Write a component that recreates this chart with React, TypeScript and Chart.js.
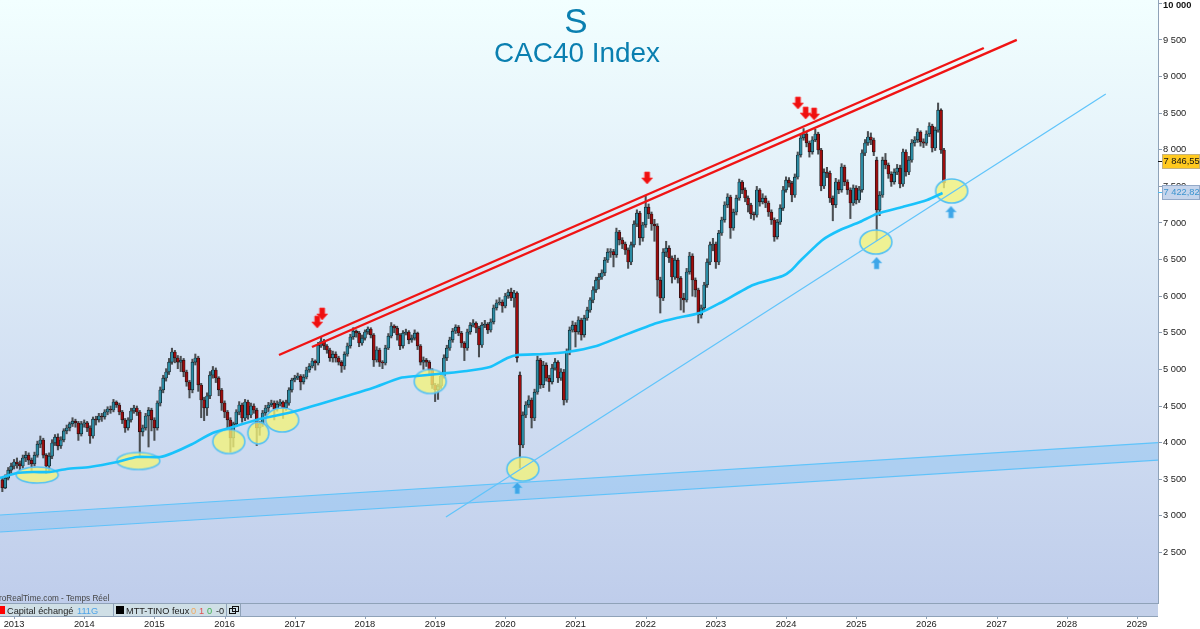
import React from "react";
import { Chart, registerables } from "chart.js";

Chart.register(...registerables);

// half-month candles [open, high, low, close]
const candles2012 = [
  [3490, 3520, 3330, 3380], [3380, 3560, 3370, 3515], [3515, 3660, 3490, 3625], [3625, 3720, 3580, 3680],
];
const candles2013 = [
  [3680, 3770, 3640, 3735], [3735, 3790, 3650, 3710], [3710, 3750, 3630, 3680], [3680, 3830, 3650, 3790],
  [3790, 3880, 3740, 3830], [3830, 3860, 3700, 3760], [3760, 3790, 3620, 3710], [3710, 3870, 3680, 3830],
  [3830, 4020, 3800, 3980], [3980, 4090, 3930, 4036], [4036, 4060, 3790, 3830], [3830, 3850, 3580, 3680],
  [3680, 3860, 3600, 3815], [3815, 4040, 3780, 3995], [3995, 4110, 3960, 4076], [4076, 4120, 3900, 3955],
  [3955, 4080, 3920, 4036], [4036, 4190, 4010, 4160], [4160, 4240, 4120, 4200], [4200, 4280, 4160, 4255],
  [4255, 4340, 4220, 4295], [4295, 4320, 4210, 4268], [4268, 4290, 4030, 4118], [4118, 4290, 4090, 4255],
];
const candles2014 = [
  [4255, 4310, 4210, 4270], [4270, 4290, 4150, 4200], [4200, 4230, 3990, 4090], [4090, 4350, 4060, 4322],
  [4322, 4360, 4240, 4309], [4309, 4400, 4280, 4364], [4364, 4400, 4290, 4350], [4350, 4450, 4320, 4418],
  [4418, 4490, 4380, 4459], [4459, 4500, 4400, 4445], [4445, 4590, 4420, 4555], [4555, 4570, 4480, 4514],
  [4514, 4540, 4380, 4418], [4418, 4440, 4260, 4309], [4309, 4330, 4140, 4200], [4200, 4340, 4170, 4309],
  [4309, 4470, 4280, 4432], [4432, 4510, 4400, 4473], [4473, 4500, 4370, 4418], [4418, 4440, 3800, 4145],
  [4145, 4240, 4090, 4200], [4200, 4400, 4170, 4364], [4364, 4480, 3940, 4445], [4445, 4470, 4160, 4309],
];
const candles2015 = [
  [4309, 4340, 4030, 4200], [4200, 4570, 4170, 4541], [4541, 4760, 4500, 4719], [4719, 4920, 4680, 4882],
  [4882, 5010, 4840, 4965], [4965, 5150, 4930, 5100], [5100, 5290, 5070, 5238], [5238, 5260, 5090, 5156],
  [5156, 5190, 5010, 5100], [5100, 5180, 4970, 5128], [5128, 5150, 4900, 4965], [4965, 4990, 4770, 4828],
  [4828, 4850, 4610, 4719], [4719, 5140, 4680, 5100], [5100, 5210, 5060, 5156], [5156, 5180, 4700, 4787],
  [4787, 4810, 4340, 4582], [4582, 4620, 4300, 4473], [4473, 4680, 4370, 4637], [4637, 4970, 4600, 4923],
  [4923, 5040, 4880, 4992], [4992, 5020, 4820, 4882], [4882, 4900, 4640, 4719], [4719, 4740, 4440, 4541],
];
const candles2016 = [
  [4541, 4570, 4340, 4418], [4418, 4440, 4200, 4309], [4309, 4340, 3870, 4063], [4063, 4280, 3940, 4255],
  [4255, 4450, 4220, 4418], [4418, 4560, 4380, 4514], [4514, 4540, 4280, 4336], [4336, 4590, 4300, 4555],
  [4555, 4580, 4320, 4377], [4377, 4540, 4340, 4500], [4500, 4530, 4400, 4445], [4445, 4470, 3960, 4200],
  [4200, 4290, 4100, 4255], [4255, 4440, 4220, 4405], [4405, 4510, 4370, 4473], [4473, 4550, 4420, 4514],
  [4514, 4580, 4490, 4541], [4541, 4570, 4310, 4459], [4459, 4570, 4430, 4527], [4527, 4590, 4500, 4555],
  [4555, 4570, 4330, 4473], [4473, 4580, 4440, 4541], [4541, 4750, 4510, 4719], [4719, 4880, 4690, 4855],
];
const candles2017 = [
  [4855, 4920, 4830, 4882], [4882, 4950, 4860, 4910], [4910, 4930, 4720, 4828], [4828, 4930, 4800, 4896],
  [4896, 5030, 4870, 4992], [4992, 5080, 4960, 5046], [5046, 5150, 5020, 5115], [5115, 5130, 4990, 5087],
  [5087, 5370, 5060, 5333], [5333, 5450, 5300, 5388], [5388, 5410, 5270, 5320], [5320, 5340, 5220, 5265],
  [5265, 5290, 5110, 5156], [5156, 5250, 5100, 5210], [5210, 5240, 5100, 5156], [5156, 5180, 5060, 5100],
  [5100, 5120, 4960, 5046], [5046, 5240, 5000, 5210], [5210, 5360, 5180, 5320], [5320, 5480, 5290, 5443],
  [5443, 5570, 5410, 5524], [5524, 5540, 5440, 5497], [5497, 5520, 5310, 5360], [5360, 5470, 5330, 5428],
];
const candles2018 = [
  [5428, 5540, 5400, 5511], [5511, 5580, 5480, 5552], [5552, 5570, 5430, 5470], [5470, 5490, 5040, 5128],
  [5128, 5310, 5100, 5265], [5265, 5290, 5040, 5100], [5100, 5120, 5010, 5087], [5087, 5330, 5060, 5292],
  [5292, 5490, 5270, 5456], [5456, 5640, 5430, 5593], [5593, 5610, 5500, 5565], [5565, 5590, 5400, 5470],
  [5470, 5490, 5270, 5320], [5320, 5530, 5290, 5497], [5497, 5550, 5470, 5511], [5511, 5530, 5350, 5402],
  [5402, 5470, 5370, 5428], [5428, 5540, 5400, 5497], [5497, 5510, 5270, 5320], [5320, 5340, 5060, 5100],
  [5100, 5170, 5000, 5128], [5128, 5150, 5040, 5100], [5100, 5120, 4940, 4992], [4992, 5010, 4740, 4787],
];
const candles2019 = [
  [4787, 4810, 4560, 4719], [4719, 4800, 4590, 4773], [4773, 4950, 4740, 4910], [4910, 5200, 4880, 5156],
  [5156, 5330, 5120, 5292], [5292, 5440, 5260, 5402], [5402, 5560, 5370, 5524], [5524, 5610, 5490, 5579],
  [5579, 5600, 5460, 5497], [5497, 5520, 5300, 5360], [5360, 5380, 5120, 5292], [5292, 5550, 5260, 5511],
  [5511, 5640, 5480, 5606], [5606, 5680, 5580, 5634], [5634, 5650, 5500, 5565], [5565, 5590, 5170, 5333],
  [5333, 5640, 5300, 5606], [5606, 5670, 5570, 5620], [5620, 5640, 5490, 5538], [5538, 5690, 5510, 5648],
  [5648, 5880, 5620, 5839], [5839, 5950, 5810, 5907], [5907, 5980, 5880, 5921], [5921, 5950, 5780, 5866],
];
const candles2020 = [
  [5866, 6040, 5840, 6003], [6003, 6090, 5970, 6057], [6057, 6110, 5940, 5975], [5975, 6080, 5850, 6044],
  [6044, 6060, 5100, 5156], [4923, 4965, 3653, 3967], [3967, 4420, 3930, 4377], [4377, 4560, 4340, 4514],
  [4514, 4640, 4480, 4582], [4582, 4610, 4200, 4336], [4336, 4730, 4300, 4691], [4691, 5183, 4660, 5128],
  [5128, 5150, 4740, 4787], [4787, 5110, 4750, 5060], [5060, 5090, 4840, 4882], [4882, 4920, 4700, 4828],
  [4828, 5070, 4800, 5019], [5019, 5150, 4990, 5100], [5100, 5120, 4820, 4882], [4882, 5010, 4850, 4965],
  [4965, 5000, 4514, 4582], [4582, 5280, 4550, 5238], [5238, 5580, 5200, 5538], [5538, 5660, 5510, 5606],
];
const candles2021 = [
  [5606, 5640, 5306, 5511], [5511, 5720, 5480, 5675], [5675, 5700, 5400, 5470], [5470, 5740, 5440, 5702],
  [5702, 5850, 5670, 5811], [5811, 5980, 5780, 5948], [5948, 6130, 5910, 6085], [6085, 6260, 6050, 6221],
  [6221, 6310, 6100, 6262], [6262, 6360, 6230, 6317], [6317, 6530, 6280, 6494], [6494, 6650, 6460, 6603],
  [6603, 6650, 6530, 6610], [6610, 6640, 6400, 6563], [6563, 6930, 6530, 6877], [6877, 6900, 6700, 6768],
  [6768, 6800, 6650, 6713], [6713, 6740, 6570, 6631], [6631, 6660, 6380, 6467], [6467, 6740, 6430, 6700],
  [6700, 7030, 6670, 6986], [6986, 7180, 6950, 7136], [7136, 7160, 6700, 6795], [6795, 7010, 6750, 6973],
];
const candles2022 = [
  [6973, 7369, 6940, 7218], [7218, 7260, 7060, 7123], [7123, 7150, 6900, 6986], [6986, 7050, 6750, 6959],
  [6959, 6990, 6000, 6221], [6221, 6260, 5770, 5975], [5975, 6650, 5940, 6603], [6603, 6750, 6540, 6658],
  [6658, 6690, 6460, 6522], [6522, 6550, 6180, 6262], [6262, 6560, 6230, 6494], [6494, 6520, 6180, 6248],
  [6248, 6270, 5811, 5975], [5975, 6040, 5780, 5948], [5948, 6380, 5920, 6331], [6331, 6600, 6300, 6549],
  [6549, 6580, 6000, 6221], [6221, 6250, 5990, 6085], [6085, 6110, 5634, 5743], [5743, 5880, 5700, 5839],
  [5839, 6190, 5810, 6153], [6153, 6510, 6120, 6467], [6467, 6740, 6430, 6700], [6700, 6790, 6620, 6713],
];
const candles2023 = [
  [6713, 6740, 6380, 6467], [6467, 6900, 6430, 6863], [6863, 7080, 6830, 7041], [7041, 7290, 7010, 7246],
  [7246, 7400, 7210, 7355], [7355, 7380, 6790, 6931], [6931, 7190, 6900, 7150], [7150, 7380, 7110, 7341],
  [7341, 7600, 7310, 7560], [7560, 7580, 7400, 7451], [7451, 7480, 7290, 7341], [7341, 7370, 7150, 7246],
  [7246, 7270, 7060, 7123], [7123, 7150, 7040, 7109], [7109, 7500, 7080, 7451], [7451, 7470, 7230, 7287],
  [7287, 7400, 7260, 7341], [7341, 7370, 7210, 7273], [7273, 7300, 7090, 7150], [7150, 7180, 6980, 7041],
  [7041, 7070, 6750, 6809], [6809, 7050, 6780, 7013], [7013, 7250, 6980, 7204], [7204, 7500, 7170, 7451],
];
const candles2024 = [
  [7451, 7630, 7420, 7587], [7587, 7620, 7490, 7546], [7546, 7570, 7290, 7382], [7382, 7670, 7350, 7628],
  [7628, 7970, 7600, 7929], [7929, 8210, 7900, 8161], [8161, 8290, 8130, 8216], [8216, 8240, 8040, 8093],
  [8093, 8120, 7900, 7970], [7970, 8180, 7940, 8134], [8134, 8280, 8110, 8216], [8216, 8240, 7940, 7997],
  [7997, 8020, 7440, 7505], [7505, 7740, 7470, 7696], [7696, 7760, 7620, 7680], [7680, 7710, 7280, 7341],
  [7341, 7370, 7030, 7246], [7246, 7610, 7210, 7560], [7560, 7590, 7400, 7451], [7451, 7810, 7420, 7765],
  [7765, 7790, 7510, 7560], [7560, 7590, 7390, 7451], [7451, 7480, 7060, 7273], [7273, 7520, 7240, 7478],
];
const candles2025 = [
  [7478, 7510, 7260, 7314], [7314, 7500, 7280, 7451], [7451, 8000, 7420, 7956], [7956, 8140, 7920, 8093],
  [8093, 8250, 8060, 8175], [8175, 8230, 8070, 8134], [8134, 8160, 7920, 7970], [7860, 7900, 6760, 7177],
  [7177, 7430, 7100, 7382], [7382, 7900, 7350, 7860], [7860, 7950, 7740, 7792], [7792, 7820, 7610, 7669],
  [7669, 7700, 7500, 7560], [7560, 7740, 7530, 7696], [7696, 7800, 7660, 7751], [7751, 7790, 7480, 7532],
  [7532, 8010, 7500, 7970], [7970, 8000, 7640, 7696], [7696, 7910, 7660, 7860], [7860, 8140, 7830, 8093],
  [8093, 8180, 8050, 8134], [8134, 8290, 8100, 8243], [8243, 8260, 8050, 8107], [8107, 8150, 8030, 8090],
];
const candles2026 = [
  [8090, 8260, 8060, 8216], [8216, 8370, 8180, 8325], [8325, 8350, 7970, 8024], [8024, 8310, 7990, 8270],
  [8270, 8639, 8240, 8543], [8543, 8560, 7950, 7997], [7997, 8020, 7480, 7546],
];

const maYears = [
  2012.8, 2013.04, 2013.27, 2013.51, 2013.75, 2014.08, 2014.47, 2014.75, 2015.08, 2015.26, 2015.51,
  2015.83, 2016.12, 2016.5, 2016.97, 2017.36, 2017.74, 2018.11, 2018.5, 2018.74, 2019.11, 2019.45,
  2019.78, 2020.03, 2020.17, 2020.54, 2020.88, 2021.3, 2021.63, 2022.16, 2022.44, 2022.77, 2023.06,
  2023.53, 2023.95, 2024.08, 2024.2, 2024.52, 2024.77, 2025.05, 2025.29, 2025.66, 2026.01, 2026.23,
];
const maValues = [
  3517, 3585, 3598, 3598, 3640, 3667, 3735, 3803, 3803, 3858, 3967, 4131, 4213, 4322, 4418, 4527,
  4637, 4746, 4883, 4910, 4944, 4978, 5033, 5156, 5197, 5210, 5238, 5320, 5443, 5634, 5702, 5770,
  5907, 6153, 6276, 6358, 6481, 6768, 6904, 7013, 7123, 7218, 7314, 7410,
];

const resistanceA = [{ x: 2016.775, y: 5197 }, { x: 2026.818, y: 9390 }];
const resistanceB = [{ x: 2017.245, y: 5306 }, { x: 2027.288, y: 9500 }];
const supportLine = [{ x: 2019.154, y: 2984 }, { x: 2028.556, y: 8762 }];
const bandUpper = [{ x: 2012.8, y: 3011 }, { x: 2029.3, y: 4000 }];
const bandLower = [{ x: 2012.8, y: 2779 }, { x: 2029.3, y: 3762 }];

const touchYears = [2013.33, 2014.77, 2016.06, 2016.48, 2016.82, 2018.93, 2020.25, 2025.28, 2026.36];
const touchPrices = [3557, 3749, 4015, 4131, 4309, 4835, 3639, 6740, 7437];
const upArrowYears = [2020.17, 2025.29, 2026.35];
const upArrowPrices = [3380, 6453, 7150];
const downArrowYears = [2017.39, 2017.32, 2022.02, 2024.17, 2024.28, 2024.4];
const downArrowPrices = [5757, 5647, 7615, 8639, 8502, 8489];

const lastPrice = 7846.55;
const maPrice = 7422.82;

const yearTicks = [2013, 2014, 2015, 2016, 2017, 2018, 2019, 2020, 2021, 2022, 2023, 2024, 2025, 2026, 2027, 2028, 2029];
const priceTicks = [2500, 3000, 3500, 4000, 4500, 5000, 5500, 6000, 6500, 7000, 7500, 8000, 8500, 9000, 9500, 10000];
const priceLabels = [
  "2 500", "3 000", "3 500", "4 000", "4 500", "5 000", "5 500", "6 000",
  "6 500", "7 000", "7 500", "8 000", "8 500", "9 000", "9 500", "",
];

// sprite sizes of the yellow ellipses, in pixels
const touchRadii = [[21, 8], [21.5, 8.5], [16, 12], [10.5, 11], [16.5, 12], [16, 12], [16, 12], [16, 12], [16, 12]];

const yearRows: [number, number, number[][]][] = [
  [2012, 20, candles2012], [2013, 0, candles2013], [2014, 0, candles2014], [2015, 0, candles2015],
  [2016, 0, candles2016], [2017, 0, candles2017], [2018, 0, candles2018], [2019, 0, candles2019],
  [2020, 0, candles2020], [2021, 0, candles2021], [2022, 0, candles2022], [2023, 0, candles2023],
  [2024, 0, candles2024], [2025, 0, candles2025], [2026, 0, candles2026],
];

const candles = yearRows.flatMap(([year, first, rows]) =>
  rows.map(([open, high, low, close], i) => ({ x: year + (first + i) / 24, open, high, low, close }))
);

const FONT = "'Liberation Sans', Arial, sans-serif";

function sprite(w: number, h: number, draw: (c: CanvasRenderingContext2D) => void) {
  const canvas = document.createElement("canvas");
  canvas.width = w;
  canvas.height = h;
  draw(canvas.getContext("2d")!);
  return canvas;
}

function ellipseSprite(rx: number, ry: number) {
  return sprite(Math.ceil(rx * 2 + 4), Math.ceil(ry * 2 + 4), (c) => {
    c.beginPath();
    c.ellipse(rx + 2, ry + 2, rx, ry, 0, 0, Math.PI * 2);
    c.fillStyle = "rgba(243,243,120,0.78)";
    c.fill();
    c.strokeStyle = "#58c2f2";
    c.lineWidth = 1.6;
    c.stroke();
  });
}

function arrowSprite(fill: string, stroke: string, up: boolean) {
  return sprite(13, 14, (c) => {
    if (!up) {
      c.translate(0, 14);
      c.scale(1, -1);
    }
    c.beginPath();
    c.moveTo(6.5, 1);
    c.lineTo(12, 7);
    c.lineTo(9, 7);
    c.lineTo(9, 13);
    c.lineTo(4, 13);
    c.lineTo(4, 7);
    c.lineTo(1, 7);
    c.closePath();
    c.fillStyle = fill;
    c.fill();
    c.strokeStyle = stroke;
    c.lineWidth = 0.7;
    c.stroke();
  });
}

function priceTag(c: CanvasRenderingContext2D, y: number, text: string, fill: string, border: string, color: string, tick: string) {
  c.fillStyle = tick;
  c.fillRect(1158, Math.round(y), 4, 1);
  c.fillStyle = fill;
  c.fillRect(1162, y - 7, 37, 14);
  c.strokeStyle = border;
  c.lineWidth = 1;
  c.strokeRect(1162.5, Math.round(y - 7) + 0.5, 37, 14);
  c.fillStyle = color;
  c.font = `9.3px ${FONT}`;
  c.textAlign = "left";
  c.textBaseline = "middle";
  c.fillText(text, 1163.5, y + 0.5);
}

const chromePlugin = {
  id: "chrome",
  beforeDraw(chart: Chart) {
    const c = chart.ctx;
    c.save();
    c.fillStyle = "#ffffff";
    c.fillRect(0, 0, 1200, 629);
    const g = c.createLinearGradient(0, 0, 0, 603);
    g.addColorStop(0, "#f2ffff");
    g.addColorStop(1, "#bfcdeb");
    c.fillStyle = g;
    c.fillRect(0, 0, 1158, 603);
    c.textAlign = "center";
    c.textBaseline = "alphabetic";
    c.fillStyle = "#0a7fb0";
    c.font = `35px ${FONT}`;
    c.fillText("S", 576, 33);
    c.font = `27.9px ${FONT}`;
    c.fillText("CAC40 Index", 577, 62);
    c.restore();
  },
  afterDraw(chart: Chart) {
    const c = chart.ctx;
    const y = chart.scales.y;
    const x = chart.scales.x;
    c.save();
    // footer strip under the plot
    c.fillStyle = "#c3d0e9";
    c.fillRect(0, 603, 1158, 14);
    c.fillStyle = "#cfdfe6";
    c.fillRect(0, 604, 240, 13);
    c.fillStyle = "#8fa2b8";
    c.fillRect(0, 603, 1158, 1);
    c.fillRect(0, 616, 1158, 1);
    c.fillRect(113, 604, 1, 12);
    c.fillRect(226, 604, 1, 12);
    c.fillRect(240, 604, 1, 12);
    c.fillStyle = "#ff0000";
    c.fillRect(0, 606, 5, 8);
    c.fillStyle = "#000000";
    c.fillRect(116, 606, 8, 8);
    c.strokeStyle = "#111111";
    c.lineWidth = 1;
    c.strokeRect(229.5, 608.5, 6, 5);
    c.strokeRect(232.5, 606.5, 6, 5);
    c.font = `9.2px ${FONT}`;
    c.textAlign = "left";
    c.textBaseline = "middle";
    const row = 611;
    c.fillStyle = "#222222";
    c.fillText("Capital échangé", 7, row);
    c.fillStyle = "#4da3e8";
    c.fillText("111G", 77, row);
    c.fillStyle = "#222222";
    c.fillText("MTT-TINO feux", 126, row);
    c.fillStyle = "#f0a860";
    c.fillText("0", 191, row);
    c.fillStyle = "#e05050";
    c.fillText("1", 199, row);
    c.fillStyle = "#40b050";
    c.fillText("0", 207, row);
    c.fillStyle = "#222222";
    c.fillText("-0", 216, row);
    c.font = `8.2px ${FONT}`;
    c.fillStyle = "#444444";
    c.fillText("roRealTime.com - Temps Réel", -1, 599);
    // year labels under the strip
    c.font = `9.3px ${FONT}`;
    c.textAlign = "center";
    yearTicks.forEach((year) => {
      const px = x.getPixelForValue(year);
      c.fillStyle = "#8fa2b8";
      c.fillRect(Math.round(px), 617, 1, 2);
      c.fillStyle = "#222222";
      c.fillText(String(year), px, 624.5);
    });
    // the top label sits a little lower than its tick
    c.textAlign = "left";
    c.font = `bold 9.3px ${FONT}`;
    c.fillStyle = "#111111";
    c.fillText("10 000", 1163, 5);
    // price tags on the right axis
    priceTag(c, y.getPixelForValue(lastPrice), "7 846,55", "#ffc91f", "#c4b27e", "#111111", "#111111");
    priceTag(c, y.getPixelForValue(maPrice), "7 422,82", "#c6d5ec", "#93a9c8", "#3d94cf", "#4db8ef");
    c.restore();
  },
};

function clearPadding(s: any) {
  s.paddingLeft = 0;
  s.paddingRight = 0;
  s.paddingTop = 0;
  s.paddingBottom = 0;
}

export default function App(): JSX.Element {
  const chartRef = React.useRef<HTMLCanvasElement>(null);

  React.useEffect(() => {
    document.body.style.margin = "0";
    let chart: Chart | undefined;
    if (chartRef.current !== null) {
      const redArrow = arrowSprite("#ee0f0f", "#ff3030", false);
      const blueArrow = arrowSprite("#3ea6e8", "#8fd0f5", true);
      const thin = { pointRadius: 0, borderWidth: 1.2, fill: false, borderColor: "#5fc4fb" };
      const red = { pointRadius: 0, borderWidth: 2.4, fill: false, borderColor: "#f01414" };
      chart = new Chart(chartRef.current, {
        type: "bar",
        data: {
          datasets: [
            { type: "line", order: 10, data: bandUpper, pointRadius: 0, borderWidth: 1.2, borderColor: "#5fc4fb", fill: "+1", backgroundColor: "rgba(105,185,245,0.3)" },
            { type: "line", order: 10, data: bandLower, ...thin },
            {
              order: 9,
              grouped: false,
              barThickness: 1.4,
              backgroundColor: "#4a4e52",
              data: candles.map((d) => ({ x: d.x, y: [d.low, d.high] })),
            },
            {
              order: 8,
              grouped: false,
              barThickness: 3,
              borderWidth: 0.7,
              borderSkipped: false,
              borderColor: "#0e1418",
              backgroundColor: candles.map((d) => (d.close >= d.open ? "#2b8ba3" : "#9c0d0d")),
              data: candles.map((d) => ({ x: d.x, y: [d.open, d.close] })),
            },
            {
              type: "scatter",
              order: 7,
              data: touchYears.map((x, i) => ({ x, y: touchPrices[i] })),
              pointStyle: touchRadii.map(([rx, ry]) => ellipseSprite(rx, ry)),
            },
            { type: "line", order: 6, data: supportLine, ...thin },
            { type: "line", order: 6, data: resistanceA, ...red },
            { type: "line", order: 6, data: resistanceB, ...red },
            {
              type: "line",
              order: 5,
              data: maYears.map((x, i) => ({ x, y: maValues[i] })),
              pointRadius: 0,
              borderWidth: 2.6,
              borderColor: "#19c2fb",
              fill: false,
              tension: 0.2,
            },
            {
              type: "scatter",
              order: 4,
              data: upArrowYears.map((x, i) => ({ x, y: upArrowPrices[i] })),
              pointStyle: blueArrow,
            },
            {
              type: "scatter",
              order: 4,
              data: downArrowYears.map((x, i) => ({ x, y: downArrowPrices[i] })),
              pointStyle: redArrow,
            },
          ],
        },
        options: {
          responsive: false,
          devicePixelRatio: 1,
          animation: false,
          events: [],
          layout: { padding: 0, autoPadding: false },
          plugins: { legend: { display: false }, tooltip: { enabled: false }, title: { display: false } },
          scales: {
            x: {
              type: "linear",
              offset: false,
              min: 2012.8,
              max: 2029.3,
              afterBuildTicks: (s: any) => { s.ticks = yearTicks.map((value) => ({ value })); },
              afterFit: (s: any) => { s.height = 26; clearPadding(s); },
              grid: { display: false },
              border: { display: false },
              ticks: { display: false },
            },
            y: {
              type: "linear",
              position: "right",
              min: 1809,
              max: 10046,
              afterBuildTicks: (s: any) => { s.ticks = priceTicks.map((value) => ({ value })); },
              afterFit: (s: any) => { s.width = 42; clearPadding(s); },
              grid: { drawOnChartArea: false, tickLength: 4, tickColor: "#8a9bb0" },
              border: { color: "#8fa2b8", width: 1 },
              ticks: {
                autoSkip: false,
                padding: 1,
                color: "#222222",
                font: { family: FONT, size: 9.3 },
                callback: (v: any) => priceLabels[priceTicks.indexOf(v)],
              },
            },
          },
        } as any,
        plugins: [chromePlugin],
      } as any);
    }
    return () => {
      chart?.destroy();
    };
  }, []);

  return (
    <div style={{ width: 1200, height: 629, overflow: "hidden" }}>
      <canvas ref={chartRef} width={1200} height={629} style={{ display: "block" }} />
    </div>
  );
}
